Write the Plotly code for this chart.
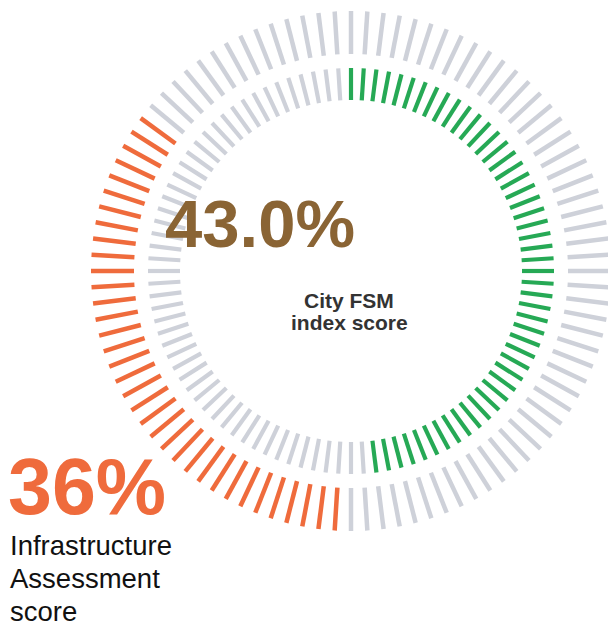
import math
import plotly.graph_objects as go

# ---- data ----
ticks_per_ring = 100
ring_names = ["Infrastructure Assessment score", "City FSM index score"]
ring_labels = ["36%", "43.0%"]
highlight_start = [51, 0]      # first highlighted tick (clockwise from 12 o'clock)
highlight_count = [35, 49]     # number of highlighted ticks

# ---- styling ----
W, H = 608, 624
CX, CY = 351, 271
ring_r_in = [217, 171]
ring_r_out = [260, 203]
ring_width = [4.5, 4.2]
ring_color = ["#EF6B3C", "#26A955"]
GRAY = "#CED1D9"

fig = go.Figure()

for i in range(len(ring_names)):
    hs, hc = highlight_start[i], highlight_count[i]
    highlighted = set((hs + k) % ticks_per_ring for k in range(hc))
    xs_g, ys_g, xs_h, ys_h = [], [], [], []
    for t in range(ticks_per_ring):
        a = 2 * math.pi * t / ticks_per_ring
        sx, sy = math.sin(a), -math.cos(a)
        seg_x = [CX + ring_r_in[i] * sx, CX + ring_r_out[i] * sx, None]
        seg_y = [CY + ring_r_in[i] * sy, CY + ring_r_out[i] * sy, None]
        if t in highlighted:
            xs_h += seg_x; ys_h += seg_y
        else:
            xs_g += seg_x; ys_g += seg_y
    fig.add_trace(go.Scatter(x=xs_g, y=ys_g, mode="lines",
                             line=dict(color=GRAY, width=ring_width[i]),
                             hoverinfo="skip", showlegend=False))
    fig.add_trace(go.Scatter(x=xs_h, y=ys_h, mode="lines",
                             line=dict(color=ring_color[i], width=ring_width[i]),
                             name=ring_names[i], hoverinfo="skip", showlegend=False))

FONT = "Liberation Sans, Arial, Helvetica, sans-serif"

def ann(text, x, y, size, color, xanchor="center", bold=False):
    fig.add_annotation(
        text=f"<b>{text}</b>" if bold else text,
        x=x, y=y, xref="x", yref="y", showarrow=False,
        xanchor=xanchor, yanchor="middle",
        font=dict(family=FONT, size=size, color=color),
    )

# centre labels
ann(ring_labels[1], 260, 223, 67, "#8A6434", bold=True)
ann("City FSM", 349, 300, 21, "#333333", bold=True)
ann("index score", 349, 322, 21, "#333333", bold=True)

# infrastructure labels
ann(ring_labels[0], 6, 486, 79, ring_color[0], xanchor="left", bold=True)
for k, line in enumerate(["Infrastructure", "Assessment", "score"]):
    ann(line, 8, 545 + 33 * k, 27.5, "#111111", xanchor="left")

fig.update_layout(
    width=W, height=H,
    margin=dict(l=0, r=0, t=0, b=0),
    paper_bgcolor="white", plot_bgcolor="white",
    xaxis=dict(range=[0, W], visible=False, fixedrange=True),
    yaxis=dict(range=[H, 0], visible=False, fixedrange=True),
    showlegend=False,
)

fig.write_html(
    "out.html",
    config={"displayModeBar": False},
    post_script="document.body.style.margin='0';document.body.style.overflow='hidden';",
)
